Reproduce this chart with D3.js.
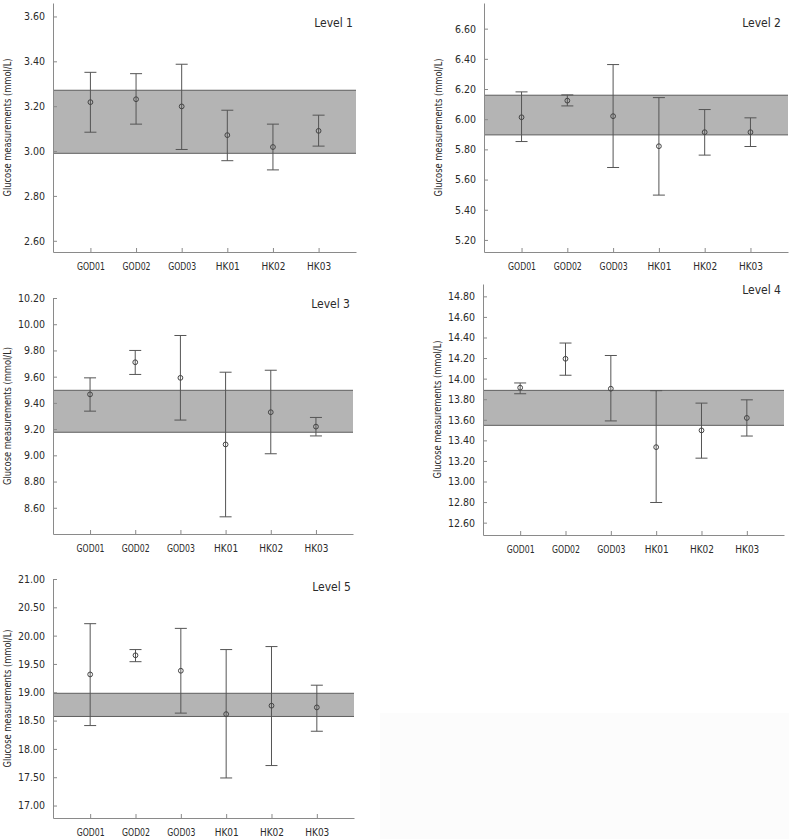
<!DOCTYPE html>
<html>
<head>
<meta charset="utf-8">
<script src="https://cdn.jsdelivr.net/npm/d3@7"></script>
<style>
  html, body { margin: 0; padding: 0; background: #fff; }
  svg { display: block; }
  text { font-family: "Liberation Sans Narrow", "DejaVu Sans Condensed", sans-serif; fill: #2a2a2a; }
  .axis path, .axis line { stroke: #8a8a8a; }
  .axis text { font-size: 10.5px; fill: #2a2a2a; }
</style>
</head>
<body>
<div id="chart"></div>
<script>
// categories and values
const categories = ["GOD01", "GOD02", "GOD03", "HK01", "HK02", "HK03"];
const levelNames = ["Level 1", "Level 2", "Level 3", "Level 4", "Level 5"];

const meanValues = [
    [3.218, 3.231, 3.199, 3.071, 3.018, 3.090],
    [6.013, 6.123, 6.020, 5.821, 5.914, 5.914],
    [9.465, 9.710, 9.591, 9.083, 9.329, 9.219],
    [13.912, 14.193, 13.902, 13.334, 13.497, 13.618],
    [19.315, 19.653, 19.380, 18.614, 18.763, 18.733],
];
const lowerValues = [
    [3.084, 3.120, 3.007, 2.957, 2.916, 3.022],
    [5.852, 6.088, 5.680, 5.497, 5.762, 5.819],
    [9.337, 9.617, 9.269, 8.531, 9.012, 9.148],
    [13.853, 14.033, 13.589, 12.796, 13.227, 13.442],
    [18.412, 19.540, 18.632, 17.487, 17.706, 18.312],
];
const upperValues = [
    [3.351, 3.345, 3.387, 3.182, 3.120, 3.160],
    [6.181, 6.161, 6.362, 6.143, 6.064, 6.009],
    [9.591, 9.800, 9.914, 9.634, 9.649, 9.289],
    [13.958, 14.346, 14.225, 13.883, 13.762, 13.794],
    [20.211, 19.754, 20.128, 19.754, 19.807, 19.125],
];
// shaded acceptance range per level
const bandLow = [2.990, 5.896, 9.176, 13.546, 18.573];
const bandHigh = [3.271, 6.159, 9.496, 13.886, 18.982];

const yDomains = [[2.55, 3.66], [5.12, 6.77], [8.40, 10.20], [12.48, 14.92], [16.78, 21.00]];
const yTicks = [
    [2.6, 2.8, 3.0, 3.2, 3.4, 3.6],
    [5.2, 5.4, 5.6, 5.8, 6.0, 6.2, 6.4, 6.6],
    [8.6, 8.8, 9.0, 9.2, 9.4, 9.6, 9.8, 10.0, 10.2],
    [12.6, 12.8, 13.0, 13.2, 13.4, 13.6, 13.8, 14.0, 14.2, 14.4, 14.6, 14.8],
    [17.0, 17.5, 18.0, 18.5, 19.0, 19.5, 20.0, 20.5, 21.0],
];

// panel placement (pixels)
const panels = [
    { x0: 53, x1: 356, y0: 3, y1: 252 },
    { x0: 484, x1: 788, y0: 3, y1: 252 },
    { x0: 53, x1: 353, y0: 298, y1: 534 },
    { x0: 483, x1: 784, y0: 284, y1: 535 },
    { x0: 53, x1: 354, y0: 579, y1: 818 },
];

const W = 789, H = 839;
const svg = d3.select("#chart").append("svg").attr("width", W).attr("height", H);

// faint background patch bottom right
svg.append("rect").attr("x", 380).attr("y", 713).attr("width", W - 380).attr("height", H - 713)
    .attr("fill", "#fcfcfc");

panels.forEach((p, i) => {
    const x = d3.scalePoint().domain(categories).range([p.x0, p.x1]).padding(0.82);
    const y = d3.scaleLinear().domain(yDomains[i]).range([p.y1, p.y0]);
    const g = svg.append("g");

    // acceptance band
    g.append("rect")
        .attr("x", p.x0)
        .attr("y", y(bandHigh[i]))
        .attr("width", p.x1 - p.x0)
        .attr("height", y(bandLow[i]) - y(bandHigh[i]))
        .attr("fill", "#b4b4b4");
    [bandLow[i], bandHigh[i]].forEach((v) => {
        g.append("line")
            .attr("x1", p.x0).attr("x2", p.x1)
            .attr("y1", y(v)).attr("y2", y(v))
            .attr("stroke", "#5e5e5e").attr("stroke-width", 1);
    });

    // axes
    g.append("g")
        .attr("class", "axis")
        .attr("transform", `translate(${p.x0},0)`)
        .call(d3.axisLeft(y).tickValues(yTicks[i]).tickFormat(d3.format(".2f"))
            .tickSizeInner(-4).tickSizeOuter(0).tickPadding(8))
        .call((a) => a.selectAll(".tick line").attr("stroke", "#b5b5b5"));

    g.append("g")
        .attr("class", "axis")
        .attr("transform", `translate(0,${p.y1})`)
        .call(d3.axisBottom(x).tickSizeInner(-4).tickSizeOuter(0).tickPadding(11))
        .call((a) => a.selectAll(".tick line").attr("stroke", "#b5b5b5"))
        .call((a) => a.selectAll("text").style("font-size", "10.5px")
            .attr("textLength", 28).attr("lengthAdjust", "spacingAndGlyphs")
            .filter((d) => d.length < 5).attr("textLength", 24));

    // error bars
    const rows = categories.map((c, j) => ({
        cat: c, mean: meanValues[i][j], lo: lowerValues[i][j], hi: upperValues[i][j],
    }));
    const bars = g.selectAll(".err").data(rows).enter().append("g").attr("class", "err");
    bars.append("line")
        .attr("x1", (d) => x(d.cat)).attr("x2", (d) => x(d.cat))
        .attr("y1", (d) => y(d.hi)).attr("y2", (d) => y(d.lo))
        .attr("stroke", "#555");
    ["hi", "lo"].forEach((k) => {
        bars.append("line")
            .attr("x1", (d) => x(d.cat) - 6).attr("x2", (d) => x(d.cat) + 6)
            .attr("y1", (d) => y(d[k])).attr("y2", (d) => y(d[k]))
            .attr("stroke", "#555");
    });
    bars.append("circle")
        .attr("cx", (d) => x(d.cat)).attr("cy", (d) => y(d.mean))
        .attr("r", 2.4)
        .attr("fill", "none")
        .attr("stroke", "#444");

    // level label
    g.append("text")
        .attr("x", Math.min(p.x1 - 3, 781))
        .attr("y", p.y0 + (i === 0 || i === 1 ? 24 : 10) + (i === 4 ? 2 : 0))
        .attr("text-anchor", "end")
        .style("font-size", "12px")
        .text(levelNames[i]);

    // y axis title
    g.append("text")
        .attr("transform", `translate(${p.x0 - 42},${(p.y0 + p.y1) / 2}) rotate(-90)`)
        .attr("text-anchor", "middle")
        .attr("textLength", 138)
        .attr("lengthAdjust", "spacingAndGlyphs")
        .style("font-size", "11px")
        .text("Glucose measurements (mmol/L)");
});
</script>
</body>
</html>
